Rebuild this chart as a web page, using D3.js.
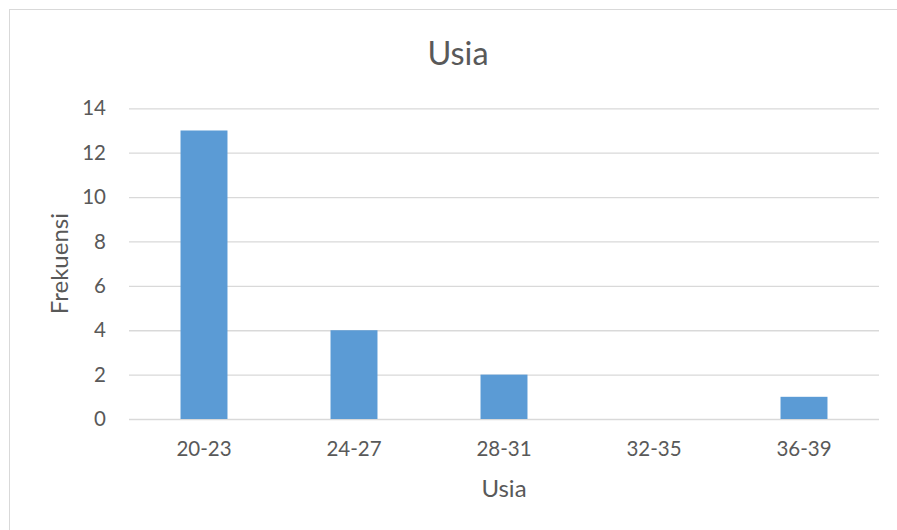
<!DOCTYPE html>
<html>
<head>
<meta charset="utf-8">
<script src="https://cdn.jsdelivr.net/npm/d3@7"></script>
<style>
  html, body { margin: 0; padding: 0; background: #fff; }
  svg { display: block; font-family: Lato, "Open Sans", sans-serif; }
</style>
</head>
<body>
<svg id="chart" width="897" height="530"></svg>
<script>
const categories = ["20-23", "24-27", "28-31", "32-35", "36-39"];
const values = [13, 4, 2, 0, 1];
const yTicks = [0, 2, 4, 6, 8, 10, 12, 14];
const chartTitle = "Usia";
const xTitle = "Usia";
const yTitle = "Frekuensi";

const svg = d3.select("#chart");
const W = 897, H = 530;
const plot = { left: 129, right: 879, top: 108.3, bottom: 419 };
const textColor = "#595959";
const gridColor = "#D9D9D9";

// chart area border (only top and left visible)
svg.append("rect")
  .attr("x", 9.5).attr("y", 9.5)
  .attr("width", 910).attr("height", 540)
  .attr("fill", "#fff").attr("stroke", gridColor).attr("stroke-width", 1);

const x = d3.scaleBand()
  .domain(categories)
  .range([plot.left, plot.right])
  .paddingInner(0.687)
  .paddingOuter(0.3435);

const y = d3.scaleLinear()
  .domain([0, 14])
  .range([plot.bottom, plot.top]);

// gridlines + y tick labels
const yAxis = d3.axisLeft(y)
  .tickValues(yTicks)
  .tickSize(-(plot.right - plot.left))
  .tickPadding(23)
  .tickFormat(d3.format("d"));

const gy = svg.append("g")
  .attr("transform", `translate(${plot.left},0)`)
  .call(yAxis);
gy.select(".domain").remove();
gy.selectAll(".tick line").attr("stroke", gridColor).attr("stroke-width", 1.3);
gy.selectAll(".tick text")
  .attr("fill", textColor)
  .style("font-size", "20.5px")
  .style("font-family", "Lato, 'Open Sans', sans-serif");

// bars
svg.append("g").selectAll("rect")
  .data(categories.map((c, i) => ({ c, v: values[i] })))
  .join("rect")
  .attr("x", d => x(d.c))
  .attr("width", x.bandwidth())
  .attr("y", d => y(d.v))
  .attr("height", d => y(0) - y(d.v))
  .attr("fill", "#5B9BD5");

// x axis labels
const xAxis = d3.axisBottom(x).tickSize(0).tickPadding(22);
const gx = svg.append("g")
  .attr("transform", `translate(0,${plot.bottom})`)
  .call(xAxis);
gx.select(".domain").remove();
gx.selectAll(".tick text")
  .attr("fill", textColor)
  .style("font-size", "20.5px")
  .style("font-family", "Lato, 'Open Sans', sans-serif");

// titles
svg.append("text")
  .attr("x", 458).attr("y", 65)
  .attr("text-anchor", "middle")
  .attr("fill", textColor)
  .style("font-size", "32.5px")
  .text(chartTitle);

svg.append("text")
  .attr("x", (plot.left + plot.right) / 2).attr("y", 497)
  .attr("text-anchor", "middle")
  .attr("fill", textColor)
  .style("font-size", "24px")
  .text(xTitle);

svg.append("text")
  .attr("transform", `translate(68,${(plot.top + plot.bottom) / 2}) rotate(-90)`)
  .attr("text-anchor", "middle")
  .attr("fill", textColor)
  .style("font-size", "24px")
  .text(yTitle);
</script>
</body>
</html>
